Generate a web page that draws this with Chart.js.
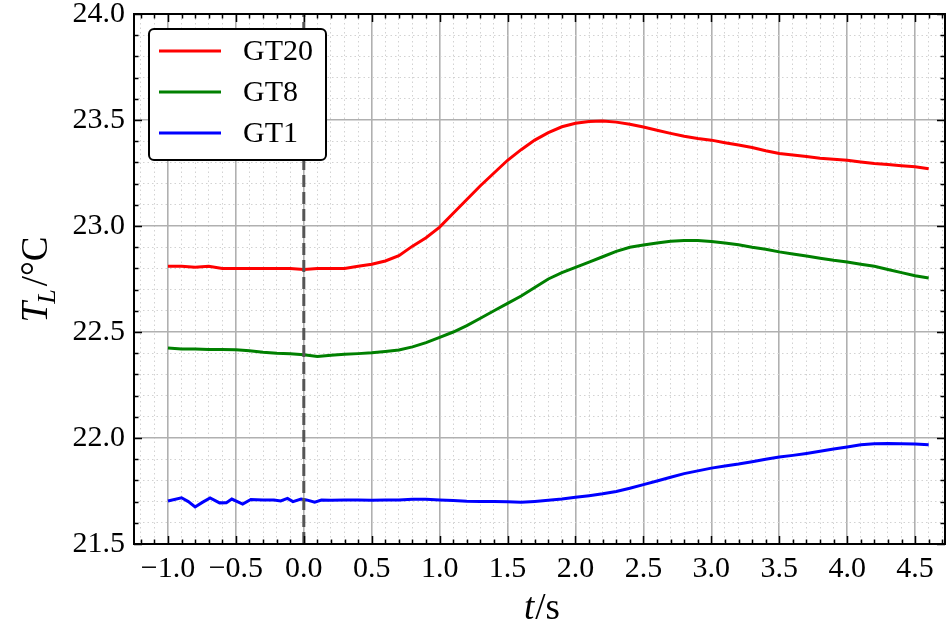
<!DOCTYPE html>
<html>
<head>
<meta charset="utf-8">
<script src="https://cdn.jsdelivr.net/npm/chart.js@4.4.1/dist/chart.umd.min.js"></script>
<style>
  body { margin: 0; background: #fff; }
  canvas { display: block; }
</style>
</head>
<body>
<canvas id="tempChart" width="947" height="632"></canvas>
<script>
// -------------------- DATA --------------------
const timeSteps = [
    -1.0, -0.9, -0.8, -0.7, -0.6, -0.5, -0.4, -0.3, -0.2, -0.1,
    0.0, 0.1, 0.2, 0.3, 0.4, 0.5, 0.6, 0.7, 0.8, 0.9,
    1.0, 1.1, 1.2, 1.3, 1.4, 1.5, 1.6, 1.7, 1.8, 1.9,
    2.0, 2.1, 2.2, 2.3, 2.4, 2.5, 2.6, 2.7, 2.8, 2.9,
    3.0, 3.1, 3.2, 3.3, 3.4, 3.5, 3.6, 3.7, 3.8, 3.9,
    4.0, 4.1, 4.2, 4.3, 4.4, 4.5, 4.6
];

const gt20Values = [
    22.81, 22.81, 22.805, 22.81, 22.80, 22.80, 22.80, 22.80, 22.80, 22.80,
    22.795, 22.80, 22.80, 22.80, 22.81, 22.82, 22.835, 22.86, 22.905, 22.945,
    22.995, 23.06, 23.125, 23.19, 23.25, 23.31, 23.36, 23.405, 23.44, 23.468,
    23.485, 23.493, 23.495, 23.49, 23.48, 23.467, 23.452, 23.437, 23.423, 23.413,
    23.405, 23.393, 23.382, 23.37, 23.355, 23.342, 23.335, 23.328, 23.32, 23.315,
    23.31, 23.302, 23.295, 23.29, 23.284, 23.279, 23.27
];

const gt8Values = [
    22.425, 22.42, 22.42, 22.418, 22.418, 22.416, 22.412, 22.405, 22.40, 22.397,
    22.393, 22.385, 22.39, 22.395, 22.398, 22.402, 22.408, 22.415, 22.43, 22.45,
    22.475, 22.50, 22.53, 22.565, 22.60, 22.635, 22.67, 22.71, 22.75, 22.78,
    22.805, 22.83, 22.855, 22.88, 22.90, 22.91, 22.92, 22.928, 22.932, 22.932,
    22.927, 22.92, 22.912, 22.90, 22.89, 22.878, 22.868, 22.858, 22.848, 22.838,
    22.83, 22.82, 22.81, 22.795, 22.78, 22.765, 22.755
];

// GT1 is noisier at the start, so it has its own (denser) time samples
const gt1Times = [
    -1.0, -0.9, -0.85, -0.8, -0.75, -0.69, -0.62, -0.57, -0.53, -0.45,
    -0.39, -0.3, -0.22, -0.17, -0.12, -0.08, -0.02, 0.02, 0.08, 0.13,
    0.2, 0.3, 0.4, 0.5, 0.6, 0.7, 0.8, 0.9,
    1.0, 1.1, 1.2, 1.3, 1.4, 1.5, 1.6, 1.7, 1.8, 1.9,
    2.0, 2.1, 2.2, 2.3, 2.4, 2.5, 2.6, 2.7, 2.8, 2.9,
    3.0, 3.1, 3.2, 3.3, 3.4, 3.5, 3.6, 3.7, 3.8, 3.9,
    4.0, 4.1, 4.2, 4.3, 4.4, 4.5, 4.6
];

const gt1Values = [
    21.703, 21.718, 21.70, 21.675, 21.695, 21.717, 21.694, 21.695, 21.712, 21.688,
    21.71, 21.707, 21.708, 21.703, 21.715, 21.70, 21.712, 21.708, 21.697, 21.707,
    21.706, 21.707, 21.707, 21.706, 21.707, 21.708, 21.711, 21.711,
    21.708, 21.705, 21.702, 21.701, 21.70, 21.699, 21.697, 21.701, 21.706, 21.712,
    21.72, 21.728, 21.737, 21.748, 21.763, 21.78, 21.797, 21.815, 21.832, 21.845,
    21.858, 21.868, 21.877, 21.888, 21.90, 21.91, 21.918, 21.927, 21.937, 21.948,
    21.958, 21.968, 21.973, 21.974, 21.973, 21.972, 21.968
];

const eventTime = 0.0;

// axis ranges and tick labels
const xRange = [-1.25, 4.72];
const yRange = [21.5, 24.0];
const xMajorTicks = [-1.0, -0.5, 0.0, 0.5, 1.0, 1.5, 2.0, 2.5, 3.0, 3.5, 4.0, 4.5];
const yMajorTicks = [21.5, 22.0, 22.5, 23.0, 23.5, 24.0];
const minorStep = 0.1;

// -------------------- HELPERS --------------------
const FONT = "'Liberation Serif', 'DejaVu Serif', serif";

function isMajor(v, majors) {
    return majors.some(m => Math.abs(m - v) < 1e-6);
}

function minorTicks(range) {
    const out = [];
    const start = Math.ceil(range[0] / minorStep - 1e-6);
    const end = Math.floor(range[1] / minorStep + 1e-6);
    for (let i = start; i <= end; i++) {
        out.push(Math.round(i) / 10);
    }
    return out;
}

function fmt(v) {
    const s = Math.abs(v).toFixed(1);
    return v < -1e-9 ? "\u2212" + s : s;
}

function toPoints(xs, ys) {
    return xs.map((x, i) => ({ x: x, y: ys[i] }));
}

function scaleOptions(range, majors, isX) {
    return {
        type: "linear",
        min: range[0],
        max: range[1],
        afterBuildTicks: (scale) => {
            scale.ticks = minorTicks(range).map(v => ({ value: v, major: isMajor(v, majors) }));
        },
        afterFit: (scale) => {
            // fixed axis sizes, no label overhang so the plot box lands where it should
            if (isX) {
                scale.height = 88;
                scale.paddingLeft = 0;
                scale.paddingRight = 0;
            } else {
                scale.width = 134;
                scale.paddingTop = 0;
                scale.paddingBottom = 0;
            }
        },
        border: {
            display: false,
            dash: (ctx) => (ctx.tick && !isMajor(ctx.tick.value, majors)) ? [1.5, 3] : []
        },
        grid: {
            drawTicks: false,
            color: (ctx) => (ctx.tick && isMajor(ctx.tick.value, majors)) ? "#b0b0b0" : "#d2d2d2",
            lineWidth: (ctx) => (ctx.tick && isMajor(ctx.tick.value, majors)) ? 1.6 : 1
        },
        ticks: {
            autoSkip: false,
            maxRotation: 0,
            minRotation: 0,
            padding: isX ? 7 : 9,
            color: "#000",
            font: { family: FONT, size: 30 },
            callback: (value) => isMajor(value, majors) ? fmt(value) : ""
        }
    };
}

// -------------------- FRAME, TICKS, TITLES, LEGEND --------------------
const framePlugin = {
    id: "framePlugin",

    afterDraw(chart) {
        const { ctx, chartArea: a, scales } = chart;
        ctx.save();

        // inward tick marks on all four sides
        ctx.strokeStyle = "#000";
        ctx.lineWidth = 1.5;
        ctx.beginPath();
        scales.x.ticks.forEach(t => {
            const px = Math.round(scales.x.getPixelForValue(t.value)) + 0.5;
            const len = t.major ? 8 : 4.5;
            ctx.moveTo(px, a.bottom);
            ctx.lineTo(px, a.bottom - len);
            ctx.moveTo(px, a.top);
            ctx.lineTo(px, a.top + len);
        });
        scales.y.ticks.forEach(t => {
            const py = Math.round(scales.y.getPixelForValue(t.value)) + 0.5;
            const len = t.major ? 8 : 4.5;
            ctx.moveTo(a.left, py);
            ctx.lineTo(a.left + len, py);
            ctx.moveTo(a.right, py);
            ctx.lineTo(a.right - len, py);
        });
        ctx.stroke();

        // frame
        ctx.lineWidth = 2;
        ctx.strokeRect(a.left, a.top, a.right - a.left, a.bottom - a.top);

        // x title: t/s
        ctx.fillStyle = "#000";
        ctx.textBaseline = "alphabetic";
        ctx.textAlign = "left";
        const italic = "italic 37px " + FONT;
        const normal = "37px " + FONT;
        ctx.font = italic;
        const wT = ctx.measureText("t").width;
        ctx.font = normal;
        const wS = ctx.measureText("/s").width;
        let x0 = (a.left + a.right) / 2 - (wT + wS) / 2 + 2;
        ctx.font = italic;
        ctx.fillText("t", x0, 619);
        ctx.font = normal;
        ctx.fillText("/s", x0 + wT + 1, 619);

        // y title: T_L/°C
        ctx.save();
        ctx.translate(47, (a.top + a.bottom) / 2);
        ctx.rotate(-Math.PI / 2);
        ctx.font = italic;
        const wBig = ctx.measureText("T").width;
        ctx.font = "italic 26px " + FONT;
        const wSub = ctx.measureText("L").width;
        ctx.font = normal;
        const wRest = ctx.measureText("/\u00b0C").width;
        let yx = -(wBig + wSub + wRest + 2) / 2;
        ctx.font = italic;
        ctx.fillText("T", yx, 0);
        yx += wBig - 2;
        ctx.font = "italic 26px " + FONT;
        ctx.fillText("L", yx, 8);
        yx += wSub + 3;
        ctx.font = normal;
        ctx.fillText("/\u00b0C", yx, 0);
        ctx.restore();

        // legend
        const items = chart.data.datasets.filter(d => d.label);
        const lx = a.left + 15;
        const ly = a.top + 15;
        const lw = 177;
        const lh = 131;
        ctx.beginPath();
        if (ctx.roundRect) {
            ctx.roundRect(lx, ly, lw, lh, 5);
        } else {
            ctx.rect(lx, ly, lw, lh);
        }
        ctx.fillStyle = "#fff";
        ctx.fill();
        ctx.lineWidth = 2;
        ctx.strokeStyle = "#000";
        ctx.stroke();

        ctx.font = "30px " + FONT;
        ctx.textBaseline = "middle";
        items.forEach((d, i) => {
            const rowY = ly + 22 + i * 41;
            ctx.beginPath();
            ctx.strokeStyle = d.borderColor;
            ctx.lineWidth = 3;
            ctx.moveTo(lx + 10, rowY);
            ctx.lineTo(lx + 72, rowY);
            ctx.stroke();
            ctx.fillStyle = "#000";
            ctx.fillText(d.label, lx + 94, rowY + 1);
        });

        ctx.restore();
    }
};

// -------------------- BUILD CHART --------------------
const lineStyle = { pointRadius: 0, borderWidth: 3, tension: 0, fill: false };

new Chart(document.getElementById("tempChart"), {
    type: "line",
    plugins: [framePlugin],
    data: {
        datasets: [
            {
                label: "",
                data: toPoints([eventTime, eventTime], yRange),
                borderColor: "#555555",
                borderDash: [12, 5],
                pointRadius: 0,
                borderWidth: 3,
                order: 0
            },
            { label: "GT20", data: toPoints(timeSteps, gt20Values), borderColor: "#ff0000", order: 1, ...lineStyle },
            { label: "GT8", data: toPoints(timeSteps, gt8Values), borderColor: "#008000", order: 2, ...lineStyle },
            { label: "GT1", data: toPoints(gt1Times, gt1Values), borderColor: "#0000ff", order: 3, ...lineStyle }
        ]
    },
    options: {
        responsive: false,
        animation: false,
        layout: { padding: { top: 14, right: 2, left: 0, bottom: 0 } },
        plugins: {
            legend: { display: false },
            tooltip: { enabled: false }
        },
        scales: {
            x: scaleOptions(xRange, xMajorTicks, true),
            y: scaleOptions(yRange, yMajorTicks, false)
        }
    }
});
</script>
</body>
</html>
